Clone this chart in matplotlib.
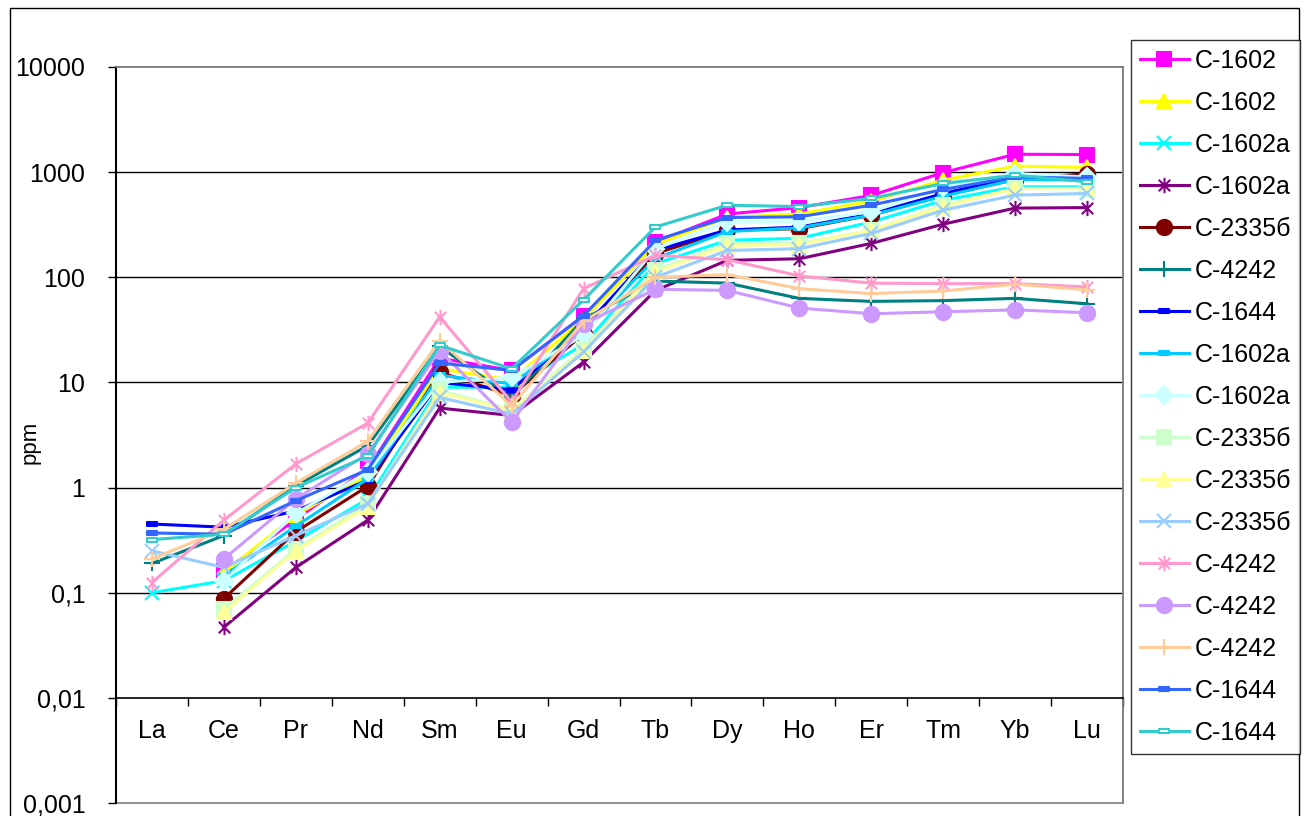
import numpy as np
import matplotlib
matplotlib.use('Agg')
import matplotlib.pyplot as plt
from matplotlib.path import Path
from matplotlib.patches import Rectangle
from matplotlib.ticker import FixedLocator, FixedFormatter, NullLocator

plt.rcParams['font.family'] = ['Liberation Sans', 'DejaVu Sans']

nan = np.nan

# REE elements on the category axis
elements = ['La', 'Ce', 'Pr', 'Nd', 'Sm', 'Eu', 'Gd', 'Tb', 'Dy', 'Ho', 'Er', 'Tm', 'Yb', 'Lu']

# y axis ticks (comma decimal as in the original)
ytick_values = [0.001, 0.01, 0.1, 1, 10, 100, 1000, 10000]
ytick_labels = ['0,001', '0,01', '0,1', '1', '10', '100', '1000', '10000']

# series labels, in legend order
labels = ['C-1602', 'C-1602', 'C-1602a', 'C-1602a', 'C-2335б', 'C-4242', 'C-1644',
          'C-1602a', 'C-1602a', 'C-2335б', 'C-2335б', 'C-2335б', 'C-4242', 'C-4242',
          'C-4242', 'C-1644', 'C-1644']

# ppm values
s01 = [nan, 0.16, 0.5, 1.5, 17, 13, 43, 215, 400, 460, 600, 990, 1480, 1470]
s02 = [nan, 0.155, 0.55, 1.3, 13.5, 10.5, 40, 205, 370, 400, 530, 840, 1140, 1110]
s03 = [0.1, 0.13, 0.31, 0.78, 9, 9, 23, 135, 225, 235, 335, 540, 725, 725]
s04 = [nan, 0.047, 0.174, 0.49, 5.7, 4.85, 15.6, 75, 145, 150, 210, 320, 455, 460]
s05 = [nan, 0.088, 0.38, 1.03, 12.5, 7.5, 29, 168, 280, 290, 390, 600, 850, 970]
s06 = [0.19, 0.35, 1.04, 2.5, 22, 7.2, 40, 92, 88, 63, 59, 60, 63, 56]
s07 = [0.45, 0.42, 0.6, 1.18, 10, 8.5, 33, 181, 282, 300, 400, 627, 900, 870]
s08 = [nan, 0.145, 0.43, 1.21, 11.7, 9.7, 30, 151, 272, 295, 390, 590, 850, 840]
s09 = [nan, 0.13, 0.57, 1.4, 10, 11.2, 28, 187, 336, 340, 420, 724, 970, 900]
s10 = [nan, 0.07, 0.26, 0.7, 8.4, 5.5, 21, 117, 210, 210, 280, 485, 700, 690]
s11 = [nan, 0.065, 0.25, 0.66, 8, 5.4, 20, 112, 200, 205, 280, 470, 700, 700]
s12 = [0.25, 0.174, 0.35, 0.7, 7.2, 5, 19.5, 100, 180, 187, 261, 435, 604, 627]
s13 = [0.125, 0.49, 1.68, 4.1, 42, 6.5, 78, 162, 147, 103, 88, 87, 87, 81]
s14 = [nan, 0.21, 0.78, 2.1, 20, 4.2, 36, 77, 75, 51, 45, 47, 49, 46]
s15 = [0.21, 0.40, 1.1, 2.76, 25, 6, 38, 100, 106, 78, 70, 74, 86, 76]
s16 = [0.37, 0.36, 0.75, 1.48, 15.3, 13, 43, 225, 370, 376, 485, 684, 903, 871]
s17 = [0.32, 0.36, 1.0, 2.0, 22.5, 13.5, 61, 301, 485, 470, 562, 780, 935, 810]
series = [s01, s02, s03, s04, s05, s06, s07, s08, s09, s10, s11, s12, s13, s14, s15, s16, s17]

colors = ['#FF00FF', '#FFFF00', '#00FFFF', '#800080', '#800000', '#008080', '#0000FF',
          '#00CCFF', '#CCFFFF', '#CCFFCC', '#FFFF99', '#99CCFF', '#FF99CC', '#CC99FF',
          '#FFCC99', '#3366FF', '#33CCCC']

# Excel-like custom markers
star = Path([(0, -1), (0, 1), (-0.75, -0.75), (0.75, 0.75), (-0.75, 0.75), (0.75, -0.75)],
            [Path.MOVETO, Path.LINETO, Path.MOVETO, Path.LINETO, Path.MOVETO, Path.LINETO])
dash = Path([(-1, -0.35), (1, -0.35), (1, 0.35), (-1, 0.35), (-1, -0.35)],
            [Path.MOVETO, Path.LINETO, Path.LINETO, Path.LINETO, Path.CLOSEPOLY])

markers = ['s', '^', 'x', star, 'o', '+', dash, dash, 'D', 's', '^', 'x', star, 'o', '+', dash, dash]
msizes = [10, 10, 10, 11, 11, 11, 7, 7, 9, 10, 10, 10, 11, 11, 11, 7, 7]

fig = plt.figure(figsize=(13.04, 8.16), dpi=100)
W, H = 1304, 816

# outer chart border
fig.patches.append(Rectangle((10 / W, -0.05), (1299 - 10) / W, 1 - 8 / H + 0.05,
                             transform=fig.transFigure, fill=False,
                             edgecolor='#000000', linewidth=1.0))

ax = fig.add_axes([116 / W, 1 - 803 / H, (1123 - 116) / W, (803 - 67) / H])
x = np.arange(len(elements))

for ys, lab, c, m, ms in zip(series, labels, colors, markers, msizes):
    mfc = c
    if c == '#33CCCC':
        mfc = 'white'
    ax.plot(x, ys, color=c, lw=2.2, marker=m, markersize=ms, markerfacecolor=mfc,
            markeredgecolor=c, markeredgewidth=1.5, label=lab)

ax.set_yscale('log')
ax.set_ylim(0.001, 10000)
ax.set_xlim(-0.5, len(elements) - 0.5)

ax.yaxis.set_major_locator(FixedLocator(ytick_values))
ax.yaxis.set_major_formatter(FixedFormatter(ytick_labels))
ax.yaxis.set_minor_locator(NullLocator())
ax.tick_params(axis='y', which='major', direction='out', length=6, width=1,
               labelsize=18, pad=16, color='#000000')

for v in ytick_values[2:-1]:
    ax.axhline(v, color='#000000', lw=1, zorder=0)

# category axis crossing at 0,01
ax.spines['bottom'].set_position(('data', 0.01))
ax.spines['bottom'].set_color('#000000')
ax.spines['bottom'].set_linewidth(1.2)
ax.set_xticks(x)
ax.set_xticklabels(elements)
ax.set_xticks(np.arange(-0.5, len(elements)), minor=True)
ax.tick_params(axis='x', which='major', length=0, labelsize=18, pad=15)
ax.tick_params(axis='x', which='minor', direction='out', length=6, width=1, color='#000000')

ax.spines['left'].set_color('#000000')
ax.spines['left'].set_linewidth(1.5)
for s in ['top', 'right']:
    ax.spines[s].set_color('#808080')
    ax.spines[s].set_linewidth(1.2)
ax.add_patch(Rectangle((0, 0), 1, 1, transform=ax.transAxes, fill=False,
                       edgecolor='#808080', linewidth=1.2, clip_on=False, zorder=0))

fig.text(30 / W, 1 - 442 / H, 'ppm', fontsize=16, rotation=90, ha='center', va='center')

leg = fig.legend(loc='upper left', bbox_to_anchor=(1131 / W, 1 - 40 / H), fontsize=18,
                 frameon=True, fancybox=False, edgecolor='#000000', borderaxespad=0,
                 handlelength=1.95, handletextpad=0.25, labelspacing=0.72, borderpad=0.35)
leg.get_frame().set_linewidth(1.0)

fig.savefig('out.png', dpi=100)
